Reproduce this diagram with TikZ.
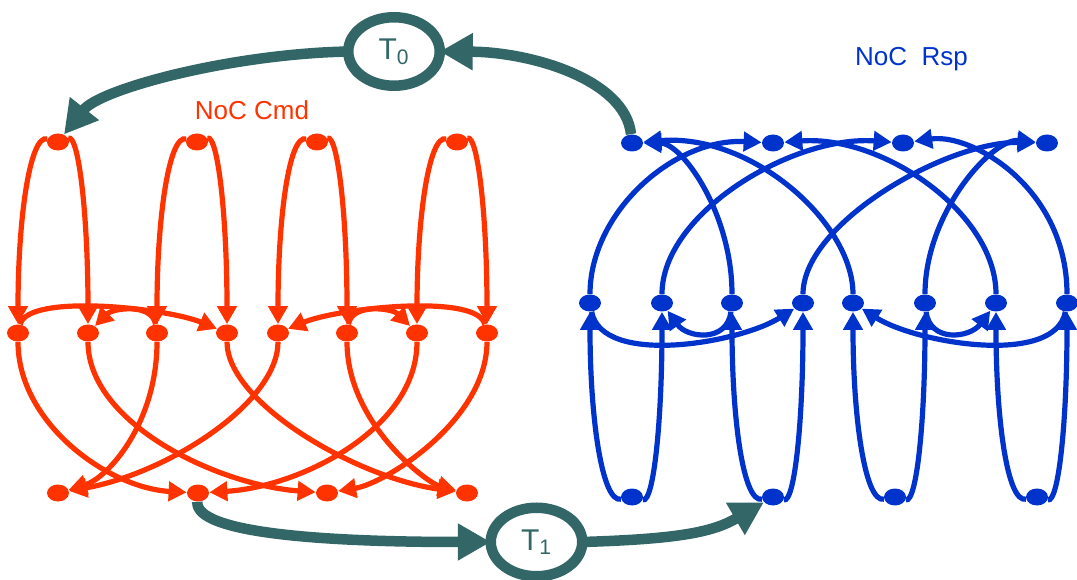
\documentclass[tikz,border=0pt]{standalone}
\usepackage{fontspec}
\setmainfont{Liberation Sans}
\usepackage{tikz}
\usetikzlibrary{arrows.meta, shapes.geometric}
\definecolor{cmdred}{RGB}{255,51,0}
\definecolor{rspblue}{RGB}{0,51,204}
\definecolor{tokteal}{RGB}{51,102,102}

\begin{document}
\begin{tikzpicture}[x=0.5pt, y=0.5pt,
	cmdnode/.style={ellipse, fill=cmdred, inner sep=0pt, minimum width=11pt, minimum height=8.5pt},
	rspnode/.style={ellipse, fill=rspblue, inner sep=0pt, minimum width=11pt, minimum height=8.5pt},
	cmdlink/.style={draw=cmdred, line width=2.6pt, -{Triangle[length=9pt, width=9.5pt]}},
	rsplink/.style={draw=rspblue, line width=2.6pt, -{Triangle[length=9pt, width=9.5pt]}},
	tnode/.style={ellipse, draw=tokteal, line width=5.25pt, fill=white, inner sep=0pt, outer sep=0pt,
		minimum width=45.75pt, minimum height=34.25pt, text=tokteal, font=\fontsize{15}{15}\selectfont},
	tlink/.style={draw=tokteal, line width=5.25pt, -{Triangle[length=16.5pt, width=17.5pt]}}]
	\useasboundingbox (0,0) rectangle (1077,579);

	% NoC Cmd
	\node[cmdnode] (ct1) at (58,437) {};  \node[cmdnode] (ct2) at (197,437) {};
	\node[cmdnode] (ct3) at (317,437) {}; \node[cmdnode] (ct4) at (457,437) {};
	\node[cmdnode] (cm1) at (18,246) {};  \node[cmdnode] (cm2) at (88,246) {};
	\node[cmdnode] (cm3) at (157,246) {}; \node[cmdnode] (cm4) at (227,246) {};
	\node[cmdnode] (cm5) at (278,246) {}; \node[cmdnode] (cm6) at (347,246) {};
	\node[cmdnode] (cm7) at (417,246) {}; \node[cmdnode] (cm8) at (487,246) {};
	\node[cmdnode] (cb1) at (58,86) {};   \node[cmdnode] (cb2) at (198,86) {};
	\node[cmdnode] (cb3) at (327,86) {};  \node[cmdnode] (cb4) at (467,86) {};
	\node[text=cmdred, font=\fontsize{13}{15}\selectfont] (cmdname) at (252,469) {NoC Cmd};

	\draw[cmdlink] (ct1) .. controls (30,445) and (18,361) .. (cm1);  \draw[cmdlink] (ct1) .. controls (79,445) and (88,361) .. (cm2);
	\draw[cmdlink] (ct2) .. controls (169,445) and (157,361) .. (cm3); \draw[cmdlink] (ct2) .. controls (218,445) and (227,361) .. (cm4);
	\draw[cmdlink] (ct3) .. controls (289,445) and (278,361) .. (cm5); \draw[cmdlink] (ct3) .. controls (338,445) and (347,361) .. (cm6);
	\draw[cmdlink] (ct4) .. controls (429,445) and (417,361) .. (cm7); \draw[cmdlink] (ct4) .. controls (478,445) and (487,361) .. (cm8);

	\draw[cmdlink] (cm1) .. controls (28,286) and (167,271) .. (cm4);  \draw[cmdlink] (cm3) .. controls (152,276) and (113,271) .. (cm2);
	\draw[cmdlink] (cm8) .. controls (477,286) and (338,271) .. (cm5); \draw[cmdlink] (cm6) .. controls (352,276) and (392,271) .. (cm7);

	\draw[cmdlink] (cm1) .. controls (18,156) and (108,91) .. (cb2);   \draw[cmdlink] (cm2) .. controls (88,156) and (217,94) .. (cb3);
	\draw[cmdlink] (cm3) .. controls (157,156) and (108,101) .. (cb1); \draw[cmdlink] (cm4) .. controls (227,176) and (357,101) .. (cb4);
	\draw[cmdlink] (cm5) .. controls (278,176) and (168,106) .. (cb1); \draw[cmdlink] (cm6) .. controls (347,156) and (427,96) .. (cb4);
	\draw[cmdlink] (cm7) .. controls (417,150) and (300,92) .. (cb2);  \draw[cmdlink] (cm8) .. controls (487,160) and (387,96) .. (cb3);

	% NoC Rsp
	\node[rspnode] (rt1) at (632,436) {};  \node[rspnode] (rt2) at (773,436) {};
	\node[rspnode] (rt3) at (903,436) {};  \node[rspnode] (rt4) at (1047,436) {};
	\node[rspnode] (rm1) at (590,276) {};  \node[rspnode] (rm2) at (662,276) {};
	\node[rspnode] (rm3) at (732,276) {};  \node[rspnode] (rm4) at (803,276) {};
	\node[rspnode] (rm5) at (853,276) {};  \node[rspnode] (rm6) at (925,276) {};
	\node[rspnode] (rm7) at (996,276) {};  \node[rspnode] (rm8) at (1067,276) {};
	\node[rspnode] (rb1) at (632,82) {};   \node[rspnode] (rb2) at (773,82) {};
	\node[rspnode] (rb3) at (895,82) {};   \node[rspnode] (rb4) at (1037,82) {};
	\node[text=rspblue, font=\fontsize{13}{15}\selectfont] (rspname) at (911.5,520) {NoC\ \ Rsp};

	\draw[rsplink] (rb1) .. controls (602,76) and (590,161) .. (rm1);   \draw[rsplink] (rb1) .. controls (654,76) and (662,161) .. (rm2);
	\draw[rsplink] (rb2) .. controls (743,76) and (732,161) .. (rm3);   \draw[rsplink] (rb2) .. controls (795,76) and (803,161) .. (rm4);
	\draw[rsplink] (rb3) .. controls (865,76) and (853,161) .. (rm5);   \draw[rsplink] (rb3) .. controls (917,76) and (925,161) .. (rm6);
	\draw[rsplink] (rb4) .. controls (1007,76) and (996,161) .. (rm7);  \draw[rsplink] (rb4) .. controls (1059,76) and (1067,161) .. (rm8);

	\draw[rsplink] (rm1) .. controls (602,212) and (740,236) .. (rm4);  \draw[rsplink] (rm3) .. controls (727,236) and (687,241) .. (rm2);
	\draw[rsplink] (rm8) .. controls (1055,212) and (916,236) .. (rm5); \draw[rsplink] (rm6) .. controls (930,236) and (970,241) .. (rm7);

	\draw[rsplink] (rm1) .. controls (590,366) and (673,441) .. (rt2);  \draw[rsplink] (rm2) .. controls (662,366) and (793,444) .. (rt3);
	\draw[rsplink] (rm3) .. controls (732,366) and (682,436) .. (rt1);  \draw[rsplink] (rm4) .. controls (803,356) and (947,438) .. (rt4);
	\draw[rsplink] (rm5) .. controls (853,356) and (752,446) .. (rt1);  \draw[rsplink] (rm6) .. controls (925,366) and (992,441) .. (rt4);
	\draw[rsplink] (rm7) .. controls (996,366) and (883,444) .. (rt2);  \draw[rsplink] (rm8) .. controls (1067,390) and (973,446) .. (rt3);

	% T0 / T1 hand-over
	\node[tnode] (T0) at (394,527.5) {T\textsubscript{0}};
	\node[tnode] (T1) at (536.5,37) {T\textsubscript{1}};
	\draw[tlink] (rt1) .. controls (625,500) and (530,527) .. (T0.east);
	\draw[tlink] (T0.west) .. controls (230,525) and (100,490) .. (ct1);
	\draw[tlink] (cb2) .. controls (195,45) and (330,37) .. (T1.west);
	\draw[tlink] (T1.east) .. controls (680,40) and (713,47) .. (rb2);
\end{tikzpicture}
\end{document}
